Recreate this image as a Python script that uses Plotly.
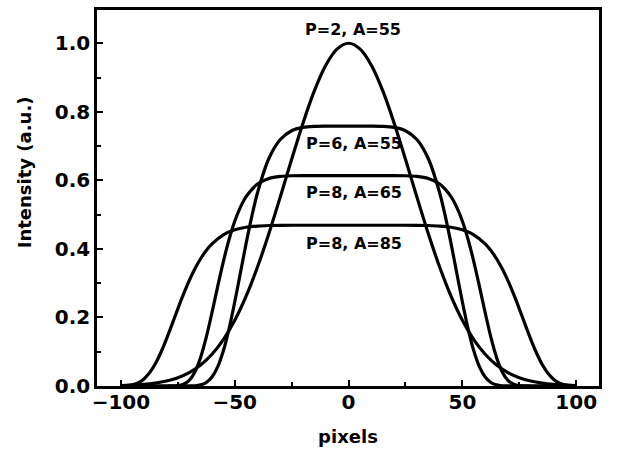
import plotly.graph_objects as go

# Curve 1: P=2, A=55
x_p2a55 = [-100, -95, -90, -85, -80, -75, -70, -65, -60, -55, -50, -45, -40, -35, -30, -25, -20, -15, -10, -5,
           0, 5, 10, 15, 20, 25, 30, 35, 40, 45, 50, 55, 60, 65, 70, 75, 80, 85, 90, 95, 100]
y_p2a55 = [0.0013, 0.0026, 0.0047, 0.0084, 0.0145, 0.0243, 0.0392, 0.0612, 0.0926, 0.1353, 0.1915, 0.2622,
           0.3472, 0.4449, 0.5516, 0.6615, 0.7676, 0.8618, 0.9360, 0.9836,
           1.0,
           0.9836, 0.9360, 0.8618, 0.7676, 0.6615, 0.5516, 0.4449, 0.3472, 0.2622, 0.1915, 0.1353, 0.0926,
           0.0612, 0.0392, 0.0243, 0.0145, 0.0084, 0.0047, 0.0026, 0.0013]

# Curve 2: P=6, A=55
x_p6a55 = [-100, -75, -70, -67.5, -65, -62.5, -60, -57.5, -55, -52.5, -50, -47.5, -45, -42.5, -40, -35, -30, -25,
           -20, -15, -10, -5, 0, 5, 10, 15, 20, 25, 30, 35, 40, 42.5, 45, 47.5, 50, 52.5, 55, 57.5, 60, 62.5,
           65, 67.5, 70, 75, 100]
y_p6a55 = [0.0, 0.0, 0.0002, 0.0008, 0.0033, 0.0102, 0.0261, 0.0557, 0.1026, 0.1670, 0.2451, 0.3305, 0.4161,
           0.4951, 0.5639, 0.6637, 0.7191, 0.7447, 0.7545, 0.7574, 0.758, 0.758, 0.758, 0.758, 0.758, 0.7574,
           0.7545, 0.7447, 0.7191, 0.6637, 0.5639, 0.4951, 0.4161, 0.3305, 0.2451, 0.1670, 0.1026, 0.0557,
           0.0261, 0.0102, 0.0033, 0.0008, 0.0002, 0.0, 0.0]

# Curve 3: P=8, A=65
x_p8a65 = [-100, -80, -75, -72.5, -70, -67.5, -65, -62.5, -60, -57.5, -55, -52.5, -50, -47.5, -45, -40, -35, -30,
           -25, -20, -10, 0, 10, 20, 25, 30, 35, 40, 45, 47.5, 50, 52.5, 55, 57.5, 60, 62.5, 65, 67.5, 70,
           72.5, 75, 80, 100]
y_p8a65 = [0.0, 0.0, 0.0011, 0.0051, 0.0165, 0.0411, 0.0831, 0.1424, 0.2139, 0.2900, 0.3630, 0.4274, 0.4805,
           0.5218, 0.5525, 0.5892, 0.6054, 0.6115, 0.6134, 0.614, 0.614, 0.614, 0.614, 0.614, 0.6134, 0.6115,
           0.6054, 0.5892, 0.5525, 0.5218, 0.4805, 0.4274, 0.3630, 0.2900, 0.2139, 0.1424, 0.0831, 0.0411,
           0.0165, 0.0051, 0.0011, 0.0, 0.0]

# Curve 4: P=8, A=85
x_p8a85 = [-100, -95, -92.5, -90, -87.5, -85, -82.5, -80, -77.5, -75, -72.5, -70, -67.5, -65, -62.5, -60, -55,
           -50, -45, -40, -35, -30, -20, -10, 0, 10, 20, 30, 35, 40, 45, 50, 55, 60, 62.5, 65, 67.5, 70, 72.5,
           75, 77.5, 80, 82.5, 85, 87.5, 90, 92.5, 95, 100]
y_p8a85 = [0.0003, 0.0036, 0.0092, 0.0199, 0.0377, 0.0635, 0.0971, 0.1369, 0.1804, 0.2250, 0.2678, 0.3072,
           0.3418, 0.3712, 0.3953, 0.4146, 0.4411, 0.4557, 0.4632, 0.4667, 0.4682, 0.4688, 0.469, 0.469, 0.469,
           0.469, 0.469, 0.4688, 0.4682, 0.4667, 0.4632, 0.4557, 0.4411, 0.4146, 0.3953, 0.3712, 0.3418, 0.3072,
           0.2678, 0.2250, 0.1804, 0.1369, 0.0971, 0.0635, 0.0377, 0.0199, 0.0092, 0.0036, 0.0003]

labels = ["P=2, A=55", "P=6, A=55", "P=8, A=65", "P=8, A=85"]
label_x = [2, 2.5, 2.5, 2.5]
label_y = [1.04, 0.708, 0.566, 0.417]

FONT = "DejaVu Sans"

fig = go.Figure()
for xs, ys in [(x_p2a55, y_p2a55), (x_p6a55, y_p6a55), (x_p8a65, y_p8a65), (x_p8a85, y_p8a85)]:
    fig.add_trace(go.Scatter(x=xs, y=ys, mode="lines",
                             line=dict(color="black", width=3.2, shape="spline", smoothing=0.8),
                             showlegend=False, hoverinfo="skip"))

for t, lx, ly in zip(labels, label_x, label_y):
    fig.add_annotation(x=lx, y=ly, text=t, showarrow=False,
                       font=dict(family=FONT, size=16, color="black", weight="bold"))

# y-axis title as annotation (placed above centre as in the reference)
fig.add_annotation(xref="paper", yref="paper", x=-0.145, y=0.569, text="Intensity (a.u.)",
                   textangle=-90, showarrow=False, xanchor="center", yanchor="middle",
                   font=dict(family=FONT, size=18, color="black", weight="bold"))

fig.update_layout(
    width=621, height=449,
    margin=dict(l=97, r=22, t=10, b=63, autoexpand=False),
    paper_bgcolor="white", plot_bgcolor="white",
    font=dict(family=FONT, color="black"),
)
fig.update_xaxes(
    range=[-110.5, 110], showgrid=False, zeroline=False, automargin=False,
    showline=True, linewidth=2.5, linecolor="black", mirror=True,
    ticks="inside", ticklen=6, tickwidth=2, tickcolor="black",
    tickvals=[-100, -50, 0, 50, 100], ticklabelstandoff=-4,
    minor=dict(tickvals=[-75, -25, 25, 75], ticks="inside", ticklen=4, tickwidth=2, tickcolor="black"),
    tickfont=dict(family=FONT, size=20, weight="bold"),
    title=dict(text="pixels", font=dict(family=FONT, size=18, weight="bold"), standoff=18),
)
fig.update_yaxes(
    range=[0, 1.097], showgrid=False, zeroline=False, automargin=False,
    showline=True, linewidth=2.5, linecolor="black", mirror=True,
    ticks="inside", ticklen=6, tickwidth=2, tickcolor="black",
    tickvals=[0, 0.2, 0.4, 0.6, 0.8, 1.0], tickformat=".1f",
    minor=dict(tickvals=[0.1, 0.3, 0.5, 0.7, 0.9], ticks="inside", ticklen=4, tickwidth=2, tickcolor="black"),
    tickfont=dict(family=FONT, size=20, weight="bold"),
)

fig.write_html("out.html")
